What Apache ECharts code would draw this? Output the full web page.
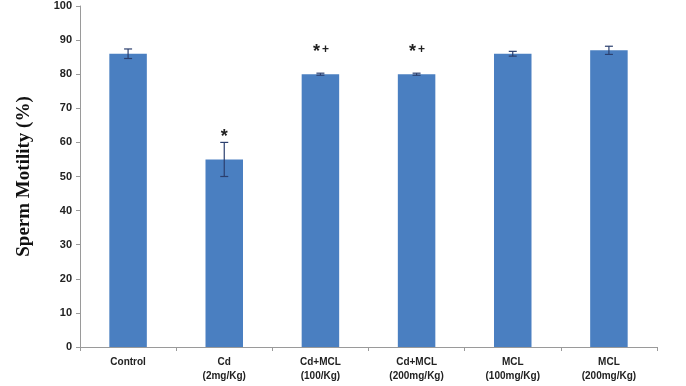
<!DOCTYPE html>
<html>
<head>
<meta charset="utf-8">
<script src="https://cdn.jsdelivr.net/npm/echarts@6/dist/echarts.min.js"></script>
<style>
  html, body { margin: 0; padding: 0; background: #fff; }
  #main { width: 686px; height: 386px; }
</style>
</head>
<body>
<div id="main"></div>
<script>
// groups and values
var categories = ['Control', 'Cd\n(2mg/Kg)', 'Cd+MCL\n(100/Kg)', 'Cd+MCL\n(200mg/Kg)', 'MCL\n(100mg/Kg)', 'MCL\n(200mg/Kg)'];
var motility = [86, 55, 80, 80, 86, 87];
var errors = [1.4, 5, 0.3, 0.3, 0.7, 1.2];
var stars = ['', '*', '*', '*', '', ''];
var plus = ['', '', '+', '+', '', ''];
var yTicks = [0, 10, 20, 30, 40, 50, 60, 70, 80, 90, 100];

var myChart = echarts.init(document.getElementById('main'));

var errData = motility.map(function (v, i) { return [i, v - errors[i], v + errors[i], v]; });

var option = {
    animation: false,
    grid: { left: 80, right: 29, top: 6, bottom: 39 },
    xAxis: {
        type: 'category',
        data: categories,
        axisLine: { lineStyle: { color: '#9a9a9a' } },
        axisTick: { show: true, length: 4, lineStyle: { color: '#9a9a9a' } },
        axisLabel: {
            color: '#222', fontWeight: 'bold', fontSize: 10,
            fontFamily: 'Liberation Sans, Arial', lineHeight: 14, margin: 8
        }
    },
    yAxis: {
        type: 'value',
        min: yTicks[0],
        max: yTicks[yTicks.length - 1],
        interval: 10,
        name: 'Sperm Motility (%)',
        nameLocation: 'middle',
        nameGap: 46,
        nameTextStyle: {
            fontFamily: 'Liberation Serif, Times New Roman', fontWeight: 'bold',
            fontSize: 19, color: '#111'
        },
        splitLine: { show: false },
        axisLine: { show: true, lineStyle: { color: '#9a9a9a' } },
        axisTick: { show: true, length: 4, lineStyle: { color: '#9a9a9a' } },
        axisLabel: {
            color: '#222', fontWeight: 'bold', fontSize: 11,
            fontFamily: 'Liberation Sans, Arial', margin: 8
        }
    },
    series: [
        {
            type: 'bar',
            data: motility,
            barWidth: '39%',
            itemStyle: { color: '#4a7fc1' }
        },
        {
            type: 'custom',
            data: errData,
            z: 5,
            renderItem: function (params, api) {
                var x = api.value(0);
                var lo = api.coord([x, api.value(1)]);
                var hi = api.coord([x, api.value(2)]);
                var top = api.coord([x, api.value(3)]);
                var half = 4;
                var style = { stroke: '#2b3f6e', lineWidth: 1.2 };
                var children = [
                    { type: 'line', shape: { x1: lo[0], y1: lo[1], x2: hi[0], y2: hi[1] }, style: style },
                    { type: 'line', shape: { x1: lo[0] - half, y1: lo[1], x2: lo[0] + half, y2: lo[1] }, style: style },
                    { type: 'line', shape: { x1: hi[0] - half, y1: hi[1], x2: hi[0] + half, y2: hi[1] }, style: style }
                ];
                var s = stars[params.dataIndex];
                var p = plus[params.dataIndex];
                if (s) {
                    children.push({
                        type: 'text',
                        style: {
                            text: s, x: top[0] - (p ? 4 : 0), y: top[1] - 22,
                            align: 'center', verticalAlign: 'middle',
                            fontSize: 18, fontWeight: 'bold',
                            fontFamily: 'Liberation Sans, Arial', fill: '#222'
                        }
                    });
                }
                if (p) {
                    children.push({
                        type: 'text',
                        style: {
                            text: p, x: top[0] + 5, y: top[1] - 25,
                            align: 'center', verticalAlign: 'middle',
                            fontSize: 12, fontWeight: 'bold',
                            fontFamily: 'Liberation Sans, Arial', fill: '#222'
                        }
                    });
                }
                return { type: 'group', children: children };
            }
        }
    ]
};

myChart.setOption(option);
</script>
</body>
</html>
